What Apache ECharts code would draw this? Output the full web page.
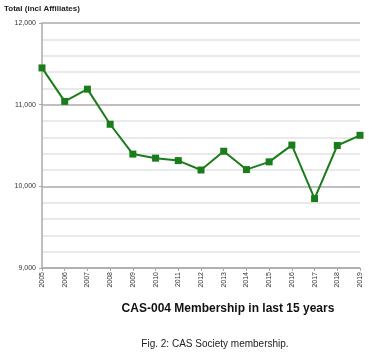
<!DOCTYPE html>
<html><head><meta charset="utf-8">
<script src="https://cdn.jsdelivr.net/npm/echarts@6/dist/echarts.min.js"></script>
<style>html,body{margin:0;padding:0;background:#fff}#c{width:369px;height:352px}</style>
</head><body><div id="c"></div>
<script>
const years = ['2005','2006','2007','2008','2009','2010','2011','2012','2013','2014','2015','2016','2017','2018','2019'];
const members = [11450,11040,11190,10760,10395,10345,10315,10200,10430,10205,10300,10505,9850,10500,10625];
const yTicks = [9000,10000,11000,12000];

const chart = echarts.init(document.getElementById('c'), null, {renderer:'canvas'});
chart.setOption({
  animation:false,
  backgroundColor:'#fff',
  title:[
    {text:'Total (incl Affiliates)', left:4, top:5, padding:0, textStyle:{fontFamily:'Liberation Sans', fontSize:8, fontWeight:'bold', color:'#222'}},
    {text:'CAS-004 Membership in last 15 years', left:228, textAlign:'center', top:303, padding:0, textStyle:{fontFamily:'Liberation Sans', fontSize:12, fontWeight:'bold', color:'#111'}},
    {text:'Fig. 2: CAS Society membership.', left:215, textAlign:'center', top:339, padding:0, textStyle:{fontFamily:'Liberation Sans', fontSize:10, fontWeight:'normal', color:'#222'}}
  ],
  grid:{left:42, right:9, top:23, bottom:84, containLabel:false},
  xAxis:{
    type:'category', data:years, boundaryGap:false,
    axisLine:{lineStyle:{color:'#aaa', width:1.5}},
    axisTick:{show:true, alignWithLabel:true, length:3, lineStyle:{color:'#aaa'}},
    axisLabel:{rotate:90, fontSize:7, color:'#333', fontFamily:'Liberation Sans', margin:4},
    splitLine:{show:false}
  },
  yAxis:{
    type:'value', min:yTicks[0], max:yTicks[yTicks.length-1], interval:1000,
    axisLine:{show:true, lineStyle:{color:'#aaa', width:1.5}},
    axisTick:{show:true, length:3, lineStyle:{color:'#aaa'}},
    axisLabel:{fontSize:7, color:'#333', fontFamily:'Liberation Sans', margin:6,
      formatter:v=>v.toLocaleString('en-US')},
    splitLine:{show:true, lineStyle:{color:'#c0c0c0', width:2}},
    minorTick:{show:false, splitNumber:5},
    minorSplitLine:{show:true, lineStyle:{color:'#e2e2e2', width:1.5}}
  },
  series:[{
    type:'line', data:members, symbol:'rect', symbolSize:7,
    lineStyle:{color:'#1a7d1a', width:2},
    itemStyle:{color:'#1a7d1a'}
  }]
});
</script></body></html>
